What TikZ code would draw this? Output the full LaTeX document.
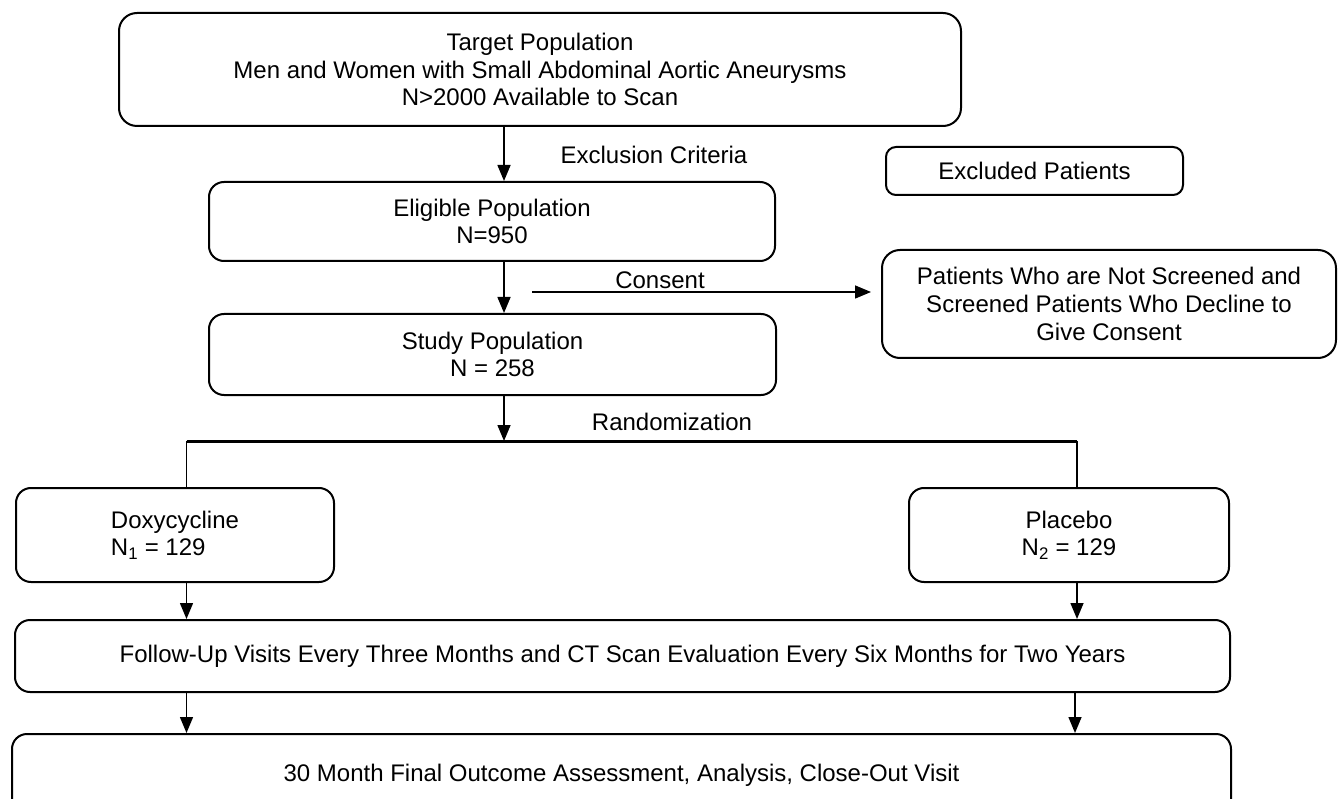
\documentclass[tikz,border=0pt]{standalone}
\usepackage{fontspec}
\setmainfont{Liberation Sans}
\usetikzlibrary{arrows.meta,calc}
\begin{document}
\begin{tikzpicture}[x=1pt,y=-1pt,
  font=\fontsize{24}{27.6}\selectfont,
  box/.style={draw, line width=2pt, rounded corners=15pt, inner sep=0pt, align=center},
  conn/.style={line width=1.5pt},
  arr/.style={conn, -{Triangle[length=16pt,width=13pt]}},
  lbl/.style={inner sep=0pt}]
\useasboundingbox (0,0) rectangle (1338,799);
% boxes
\node[box, minimum width=842pt, minimum height=113pt, rounded corners=18pt] (top) at (540,69.5)
  {Target Population\\Men and Women with Small Abdominal Aortic Aneurysms\\N>2000 Available to Scan};
\node[box, minimum width=297pt, minimum height=48pt, rounded corners=10pt] (excl) at (1034.5,171) {Excluded Patients};
\node[box, minimum width=566pt, minimum height=79pt] (elig) at (492,221.5) {Eligible Population\\N=950};
\node[box, minimum width=567pt, minimum height=81pt] (study) at (492.5,354.5) {Study Population\\N = 258};
\node[box, minimum width=454pt, minimum height=108pt, rounded corners=18pt] (cons) at (1109,304)
  {Patients Who are Not Screened and\\Screened Patients Who Decline to\\Give Consent};
\node[box, minimum width=318pt, minimum height=94pt, align=left] (doxy) at (175,535) {Doxycycline\\N\textsubscript{1} = 129};
\node[box, minimum width=320pt, minimum height=94pt] (plac) at (1069,535) {Placebo\\N\textsubscript{2} = 129};
\node[box, minimum width=1215pt, minimum height=72pt] (follow) at (622.5,656)
  {Follow-Up Visits Every Three Months and CT Scan Evaluation Every Six Months for Two Years};
\node[box, minimum width=1219pt, minimum height=82pt] (final) at (621.5,775)
  {30 Month Final Outcome Assessment, Analysis, Close-Out Visit};
% helper coordinates
\coordinate (ax) at (504,0);
\coordinate (cstart) at (532,292);
\coordinate (rj) at (504,441);
\coordinate (rl) at (186.5,441);
\coordinate (rr) at (1077,441);
\coordinate (fr) at (1075,0);
% labels
\node[lbl] (lexcl) at (654,155) {Exclusion Criteria};
\node[lbl] (lcons) at (660,280) {Consent};
\node[lbl] (lrand) at (672,422) {Randomization};
% connectors
\draw[arr] (top.south -| ax) -- (elig.north -| ax);
\draw[arr] (elig.south -| ax) -- (study.north -| ax);
\draw[arr, shorten >=10pt] (cstart) -- (cons.west |- cstart);
\draw[arr] (study.south -| ax) -- (rj);
\draw[line width=3pt] (rl) -- (rr);
\draw[conn] (rl) -- (doxy.north -| rl);
\draw[conn] (rr) -- (plac.north -| rr);
\draw[arr] (doxy.south -| rl) -- (follow.north -| rl);
\draw[arr] (plac.south -| rr) -- (follow.north -| rr);
\draw[arr] (follow.south -| rl) -- (final.north -| rl);
\draw[arr] (follow.south -| fr) -- (final.north -| fr);
\end{tikzpicture}
\end{document}
